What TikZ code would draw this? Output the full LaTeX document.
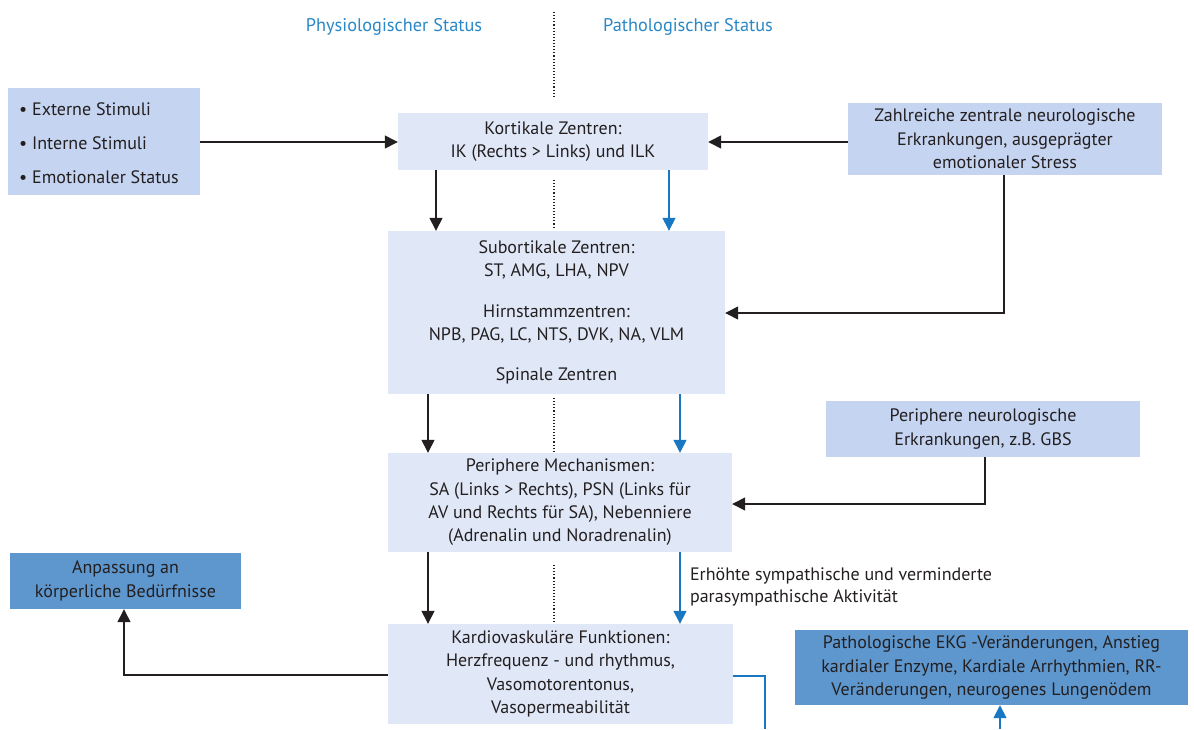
\documentclass[tikz,border=0pt]{standalone}
\usepackage{fontspec}
\setmainfont{PT Sans}
\usetikzlibrary{arrows.meta,calc}
\definecolor{lightbox}{HTML}{E0E8F8}
\definecolor{midbox}{HTML}{C5D4F1}
\definecolor{darkbox}{HTML}{5E97CE}
\definecolor{blueline}{HTML}{1A78C2}
\definecolor{headblue}{HTML}{2A87C8}
\definecolor{txt}{HTML}{231F20}
\tikzset{
  box/.style={inner sep=0pt, align=center, text=txt, font=\fontsize{18}{23.3}\selectfont},
  lbox/.style={box, fill=lightbox},
  mbox/.style={box, fill=midbox},
  dbox/.style={box, fill=darkbox},
  arr/.style={line width=1.4pt, draw=txt, -{Triangle[length=13pt,width=13pt]}},
  barr/.style={line width=1.4pt, draw=blueline, -{Triangle[length=13pt,width=13pt]}},
  bline/.style={line width=1.4pt, draw=blueline},
  dotline/.style={line width=1.1pt, dotted, draw=txt},
  head/.style={text=headblue, font=\fontsize{18.3}{20}\selectfont},
}
\begin{document}
\begin{tikzpicture}[x=1pt,y=-1pt]
\useasboundingbox (0,0) rectangle (1194,729);
% dotted separator
\draw[dotline] (554,12) -- (554,98);
\draw[dotline] (554,180) -- (554,228);
\draw[dotline] (554,398) -- (554,452);
\draw[dotline] (554,565) -- (554,622);
% headers
\node[head] (phys) at (394,27) {Physiologischer Status};
\node[head] (path) at (688,27) {Pathologischer Status};
% boxes
\node[mbox, minimum width=192pt, minimum height=107pt] (stim) at (104,141.5) {};
\node[box, anchor=west, align=left, font=\fontsize{18}{34}\selectfont] (stimtxt) at (19,143)
  {\textbullet\ Externe Stimuli\\ \textbullet\ Interne Stimuli\\ \textbullet\ Emotionaler Status};
\node[lbox, minimum width=310pt, minimum height=57pt] (kort) at (553,141.5)
  {Kortikale Zentren:\\ IK (Rechts > Links) und ILK};
\node[mbox, minimum width=314pt, minimum height=72pt] (zahl) at (1005,139)
  {Zahlreiche zentrale neurologische\\ Erkrankungen, ausgeprägter\\ emotionaler Stress};
\node[lbox, minimum width=337pt, minimum height=163pt] (sub) at (556.5,312.5)
  {Subortikale Zentren:\\ ST, AMG, LHA, NPV\\[17pt] Hirnstammzentren:\\ NPB, PAG, LC, NTS, DVK, NA, VLM\\[17pt] Spinale Zentren};
\node[mbox, minimum width=314pt, minimum height=56pt] (pneu) at (983,429)
  {Periphere neurologische\\ Erkrankungen, z.B. GBS};
\node[lbox, minimum width=344pt, minimum height=99pt] (pmech) at (560,502.5)
  {Periphere Mechanismen:\\ SA (Links > Rechts), PSN (Links für\\ AV und Rechts für SA), Nebenniere\\ (Adrenalin und Noradrenalin)};
\node[dbox, minimum width=231pt, minimum height=56pt] (anp) at (125.5,581)
  {Anpassung an\\ körperliche Bedürfnisse};
\node[lbox, minimum width=345pt, minimum height=100pt] (kard) at (560.5,674)
  {Kardiovaskuläre Funktionen:\\ Herzfrequenz - und rhythmus,\\ Vasomotorentonus,\\ Vasopermeabilität};
\node[dbox, minimum width=393pt, minimum height=75pt] (ekg) at (991.5,667.5)
  {Pathologische EKG -Veränderungen, Anstieg\\ kardialer Enzyme, Kardiale Arrhythmien, RR-\\ Veränderungen, neurogenes Lungenödem};
% helper coordinates
\coordinate (xa) at (436,0);
\coordinate (xb) at (669,0);
\coordinate (xc) at (428,0);
\coordinate (xd) at (680,0);
\coordinate (xz) at (1004,0);
\coordinate (xp) at (985,0);
\coordinate (yk) at (0,142);
\coordinate (ys) at (0,313);
\coordinate (yp) at (0,504);
\coordinate (yka) at (0,675);
\coordinate (bend1) at (124,675);
\coordinate (bend2) at (765,676);
\coordinate (bottomR) at (765,729);
\coordinate (bottomE) at (1000,729);
% connectors
\draw[arr] (stim.east |- yk) -- (kort.west |- yk);
\draw[arr] (zahl.west |- yk) -- (kort.east |- yk);
\draw[arr] (kort.south -| xa) -- (sub.north -| xa);
\draw[barr] (kort.south -| xb) -- (sub.north -| xb);
\draw[arr] (zahl.south -| xz) -- (xz |- ys) -- (sub.east |- ys);
\draw[arr] (sub.south -| xc) -- (pmech.north -| xc);
\draw[barr] (sub.south -| xd) -- (pmech.north -| xd);
\draw[arr] (pneu.south -| xp) -- (xp |- yp) -- (pmech.east |- yp);
\draw[arr] (pmech.south -| xc) -- (kard.north -| xc);
\draw[barr] (pmech.south -| xd) -- node[right=6pt, align=left, text=txt, font=\fontsize{18}{22}\selectfont, pos=0.48] (lab) {Erhöhte sympathische und verminderte\\ parasympathische Aktivität} (kard.north -| xd);
\draw[arr] (kard.west |- yka) -- (bend1) -- (anp.south -| bend1);
\draw[bline] (kard.east |- bend2) -- (bend2) -- (bottomR);
\draw[barr] (bottomE) -- (ekg.south -| bottomE);
\end{tikzpicture}
\end{document}
